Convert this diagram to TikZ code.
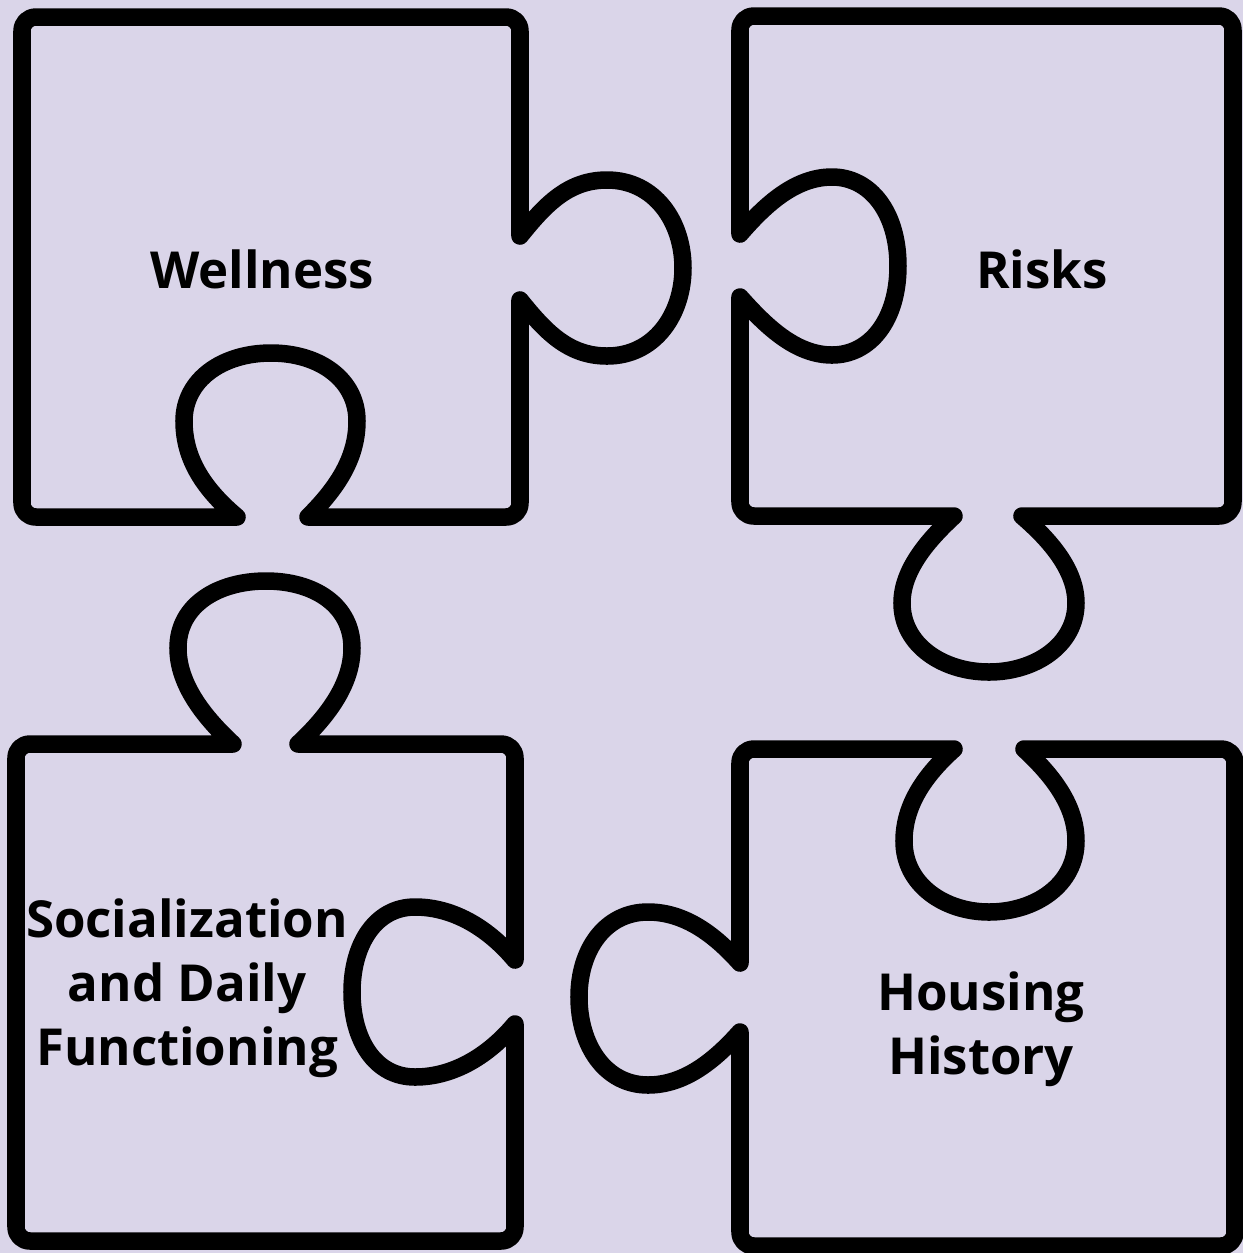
\documentclass[tikz,border=0pt]{standalone}
\usepackage{fontspec}
\setmainfont{Open Sans}
\usepackage{tikz}
\definecolor{puzzlebg}{RGB}{218,213,233}
\tikzset{
  piece/.style = {draw=black, line width=0.175cm, line join=round, line cap=round},
  ptext/.style = {align=center, inner sep=0pt, text=black, font=\bfseries\fontsize{14.5}{18.2}\selectfont},
}

\begin{document}
\begin{tikzpicture}[x=0.01cm, y=-0.01cm]
\useasboundingbox (0,0) rectangle (1243,1253);
\fill[puzzlebg] (0,0) rectangle (1243,1253);
% top left piece, knob right, hole below
\draw[piece] (36,17) -- (506,17) .. controls (514,17) and (520,23) .. (520,31) -- (520,236)
  .. controls (545,205) and (568,180) .. (607,180) .. controls (655,180) and (683,222) .. (683,268)
  .. controls (683,314) and (655,356) .. (607,356) .. controls (568,356) and (545,331) .. (520,300)
  -- (520,503) .. controls (520,511) and (514,517) .. (506,517) -- (308,517)
  .. controls (335,490) and (357,460) .. (357,421) .. controls (357,380) and (320,353) .. (271,353)
  .. controls (222,353) and (184,380) .. (184,421) .. controls (184,460) and (205,490) .. (237,517)
  -- (36,517) .. controls (28,517) and (22,511) .. (22,503) -- (22,31)
  .. controls (22,23) and (28,17) .. (36,17) -- cycle;
% top right piece, hole left, knob below
\draw[piece] (754,16) -- (1219,16) .. controls (1227,16) and (1233,22) .. (1233,30) -- (1233,502)
  .. controls (1233,510) and (1227,516) .. (1219,516) -- (1022,516)
  .. controls (1050,540) and (1076,570) .. (1076,603) .. controls (1076,645) and (1035,672) .. (989,672)
  .. controls (943,672) and (902,645) .. (902,603) .. controls (902,570) and (928,540) .. (954,516)
  -- (754,516) .. controls (746,516) and (740,510) .. (740,502) -- (740,297)
  .. controls (765,325) and (795,355) .. (832,355) .. controls (870,355) and (898,320) .. (898,266)
  .. controls (898,212) and (870,177) .. (832,177) .. controls (795,177) and (765,205) .. (740,234)
  -- (740,30) .. controls (740,22) and (746,16) .. (754,16) -- cycle;
% bottom left piece, knob above, hole right
\draw[piece] (30,744) -- (233,744)
  .. controls (205,718) and (178,685) .. (178,648) .. controls (178,605) and (218,581) .. (266,581)
  .. controls (314,581) and (352,605) .. (352,648) .. controls (352,685) and (326,718) .. (298,744)
  -- (501,744) .. controls (509,744) and (515,750) .. (515,758) -- (515,960)
  .. controls (490,930) and (455,907) .. (415,907) .. controls (375,907) and (352,945) .. (352,992)
  .. controls (352,1040) and (375,1077) .. (415,1077) .. controls (455,1077) and (490,1054) .. (515,1024)
  -- (515,1227) .. controls (515,1235) and (509,1241) .. (501,1241) -- (30,1241)
  .. controls (22,1241) and (16,1235) .. (16,1227) -- (16,758)
  .. controls (16,750) and (22,744) .. (30,744) -- cycle;
% bottom right piece, hole above, knob left
\draw[piece] (754,749) -- (954,749)
  .. controls (925,775) and (904,805) .. (904,841) .. controls (904,885) and (945,912) .. (989,912)
  .. controls (1035,912) and (1076,885) .. (1076,841) .. controls (1076,805) and (1052,775) .. (1024,749)
  -- (1221,749) .. controls (1229,749) and (1235,755) .. (1235,763) -- (1235,1232)
  .. controls (1235,1240) and (1229,1246) .. (1221,1246) -- (754,1246)
  .. controls (746,1246) and (740,1240) .. (740,1232) -- (740,1032)
  .. controls (715,1060) and (685,1085) .. (648,1085) .. controls (605,1085) and (579,1045) .. (579,997)
  .. controls (579,950) and (605,912) .. (648,912) .. controls (685,912) and (715,935) .. (740,963)
  -- (740,763) .. controls (740,755) and (746,749) .. (754,749) -- cycle;

\node[ptext, anchor=base] (wellness) at (262,288) {Wellness};
\node[ptext, anchor=base] (risks) at (1042,288) {Risks};
\node[ptext] (social) at (187,988) {Socialization\\and Daily\\Functioning};
\node[ptext] (housing) at (981,1029) {Housing\\History};
\end{tikzpicture}
\end{document}
